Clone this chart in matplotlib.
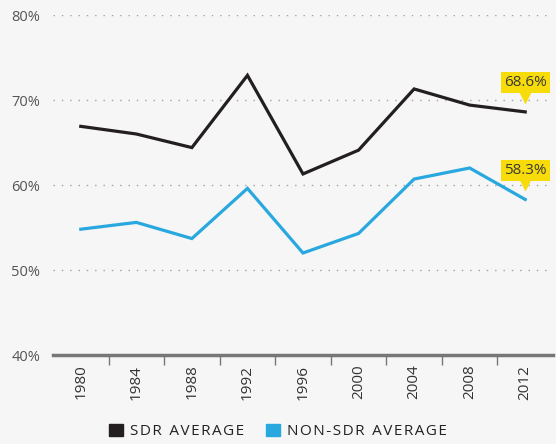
import matplotlib
matplotlib.use("Agg")
import matplotlib.pyplot as plt
from matplotlib.transforms import offset_copy
from matplotlib.patches import Patch

years = ["1980", "1984", "1988", "1992", "1996", "2000", "2004", "2008", "2012"]
sdr_avg = [66.9, 66.0, 64.4, 72.9, 61.3, 64.1, 71.3, 69.4, 68.6]
non_sdr_avg = [54.8, 55.6, 53.7, 59.6, 52.0, 54.3, 60.7, 62.0, 58.3]
y_ticks = [40, 50, 60, 70, 80]

bg = "#f5f6f5"
sdr_color = "#231f20"
non_color = "#29a8e0"
label_color = "#555555"

plt.rcParams["font.family"] = ["Open Sans", "DejaVu Sans"]

fig = plt.figure(figsize=(5.56, 4.44), dpi=100, facecolor=bg)
ax = fig.add_axes([53 / 556, 1 - 355 / 444, 500 / 556, 340 / 444], facecolor=bg)

x = list(range(len(years)))
ax.plot(x, sdr_avg, color=sdr_color, lw=2.3, solid_joinstyle="miter", zorder=3)
ax.plot(x, non_sdr_avg, color=non_color, lw=2.3, solid_joinstyle="miter", zorder=3)

ax.set_xlim(-0.5, len(years) - 0.5)
ax.set_ylim(40, 80)

# dotted grid
for t in y_ticks[1:]:
    ax.axhline(t, color="#a0a0a0", lw=1, ls=(0, (1, 5)), zorder=1)

ax.set_yticks(y_ticks)
ax.set_yticklabels([f"{t}%" for t in y_ticks])
ax.tick_params(axis="y", length=0, pad=9, labelsize=10.5, labelcolor=label_color)

# ticks between categories
ax.set_xticks([i + 0.5 for i in x[:-1]])
ax.set_xticklabels([])
ax.set_xticks(x, minor=True)
ax.set_xticklabels(years, minor=True, rotation=90)
ax.tick_params(axis="x", which="major", length=7, width=1, color="#777777", direction="out")
ax.tick_params(axis="x", which="minor", length=0, pad=7, labelsize=11, labelcolor="#333333")

for s in ["top", "right", "left"]:
    ax.spines[s].set_visible(False)
ax.spines["bottom"].set_color("#777777")
ax.spines["bottom"].set_linewidth(2.5)

# end labels with yellow callouts
last = len(years) - 1
for vals in [sdr_avg, non_sdr_avg]:
    v = vals[-1]
    ax.plot(last, v, marker="v", ms=9, color="#f7dc0a", mec="none",
            transform=offset_copy(ax.transData, fig=fig, x=0, y=14, units="dots"),
            zorder=4, clip_on=False)
    ax.text(last, v, f"{v:.1f}%", ha="center", va="center", fontsize=11,
            color="#3a3a3a",
            transform=offset_copy(ax.transData, fig=fig, x=0, y=29, units="dots"),
            bbox=dict(boxstyle="square,pad=0.2", fc="#f7dc0a", ec="none"),
            zorder=5, clip_on=False)

handles = [Patch(color=sdr_color, label="S D R  A V E R A G E".replace("  ", "\u2002").replace(" ", "\u200a")),
           Patch(color=non_color, label="N O N - S D R  A V E R A G E".replace("  ", "\u2002").replace(" ", "\u200a"))]
fig.legend(handles=handles, loc="lower center", bbox_to_anchor=(0.5, -0.02), ncol=2,
           frameon=False, fontsize=11, handlelength=0.9, handleheight=0.9,
           handletextpad=0.5, columnspacing=1.4, labelcolor="#222222")

fig.savefig("out.png", dpi=100, facecolor=bg)
